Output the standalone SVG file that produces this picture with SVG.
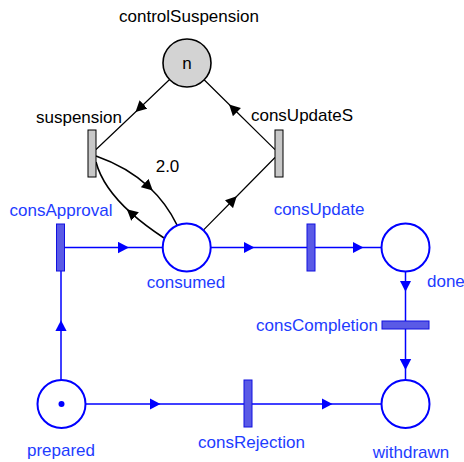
<svg xmlns="http://www.w3.org/2000/svg" width="464" height="462" viewBox="0 0 464 462">
<defs>
<style>
.lbl{font-family:"Liberation Sans",Arial,sans-serif;font-size:17px}
.bt{fill:#1E3CFF}
.kt{fill:#000}
.bp{fill:#fff;stroke:#0000FF;stroke-width:2}
.btr{fill:#5A5AE6;stroke:#1010E0;stroke-width:1}
.gtr{fill:#C8C8C8;stroke:#000;stroke-width:1}
.bl{fill:none;stroke:#0000FF;stroke-width:1.5;marker-mid:url(#ab)}
.kl{fill:none;stroke:#000;stroke-width:1.2;marker-mid:url(#ak)}
.kc{fill:none;stroke:#000;stroke-width:1.6;marker-mid:url(#ak)}
</style>
<marker id="ab" markerUnits="userSpaceOnUse" markerWidth="12" markerHeight="12" viewBox="0 0 12 12" refX="5.5" refY="6" orient="auto"><path d="M0,0.3 L11,6 L0,11.7 z" fill="#0000FF"/></marker>
<marker id="ak" markerUnits="userSpaceOnUse" markerWidth="12" markerHeight="12" viewBox="0 0 12 12" refX="5.5" refY="6" orient="auto"><path d="M0,0.3 L11,6 L0,11.7 z" fill="#000"/></marker>
</defs>
<rect width="464" height="462" fill="#fff"/>
<g id="connectors">
<path class="kl" d="M169.6,79.5 L139.5,108.2 L96,149.5"/>
<path class="kl" d="M275,149.6 L233,108.3 L204.1,79.8"/>
<path class="kl" d="M203.6,229.9 L232.85,200.25 L275,157.5"/>
<path class="kc" d="M96,156 Q127.35,167 148.72,186.77 Q166.2,202.95 177,225"/>
<path class="kc" d="M164,238 Q144.86,225.46 130.95,212.92 Q102.7,187.46 96,162"/>
<path class="bl" d="M61,380 L61,325.7 L61,271"/>
<path class="bl" d="M64.5,247.5 L123.5,247.5 L162.7,247.5"/>
<path class="bl" d="M210.7,247.5 L249,247.5 L307,247.5"/>
<path class="bl" d="M315,247.5 L358,247.5 L381.5,247.5"/>
<path class="bl" d="M405.5,271.5 L405.5,286.2 L405.5,321"/>
<path class="bl" d="M405.5,329 L405.5,364.5 L405.5,380"/>
<path class="bl" d="M85.5,404 L155,404 L244,404"/>
<path class="bl" d="M252,404 L327,404 L382,404"/>
</g>
<g id="controlSuspension">
<circle cx="187" cy="63" r="24" fill="#D3D3D3" stroke="#000" stroke-width="1.6"/>
<text class="lbl kt" x="187" y="69" text-anchor="middle">n</text>
<text class="lbl kt" x="189" y="22" text-anchor="middle">controlSuspension</text>
</g>
<g id="suspension">
<rect class="gtr" x="88" y="130" width="8" height="47"/>
<text class="lbl kt" x="79" y="123" text-anchor="middle">suspension</text>
</g>
<g id="consUpdateS">
<rect class="gtr" x="275" y="130" width="8" height="47"/>
<text class="lbl kt" x="302" y="121" text-anchor="middle">consUpdateS</text>
</g>
<g id="weight">
<text class="lbl kt" x="167.5" y="172" text-anchor="middle">2.0</text>
</g>
<g id="consApproval">
<rect class="btr" x="56.5" y="224" width="8" height="47"/>
<text class="lbl bt" x="61" y="216" text-anchor="middle">consApproval</text>
</g>
<g id="consumed">
<circle class="bp" cx="186.7" cy="247.5" r="24"/>
<text class="lbl bt" x="186" y="288" text-anchor="middle">consumed</text>
</g>
<g id="consUpdate">
<rect class="btr" x="307" y="224" width="8" height="47"/>
<text class="lbl bt" x="319" y="215" text-anchor="middle">consUpdate</text>
</g>
<g id="done">
<circle class="bp" cx="405.5" cy="247.5" r="24"/>
<text class="lbl bt" x="427" y="287">done</text>
</g>
<g id="consCompletion">
<rect class="btr" x="382" y="321" width="47" height="8"/>
<text class="lbl bt" x="378" y="331" text-anchor="end">consCompletion</text>
</g>
<g id="prepared">
<circle class="bp" cx="61.5" cy="404" r="24"/>
<circle cx="61.5" cy="404" r="3" fill="#0000FF"/>
<text class="lbl bt" x="61" y="456" text-anchor="middle">prepared</text>
</g>
<g id="consRejection">
<rect class="btr" x="244" y="380" width="8" height="47"/>
<text class="lbl bt" x="251.5" y="448" text-anchor="middle">consRejection</text>
</g>
<g id="withdrawn">
<circle class="bp" cx="405.5" cy="404" r="24"/>
<text class="lbl bt" x="411" y="458" text-anchor="middle">withdrawn</text>
</g>
</svg>
